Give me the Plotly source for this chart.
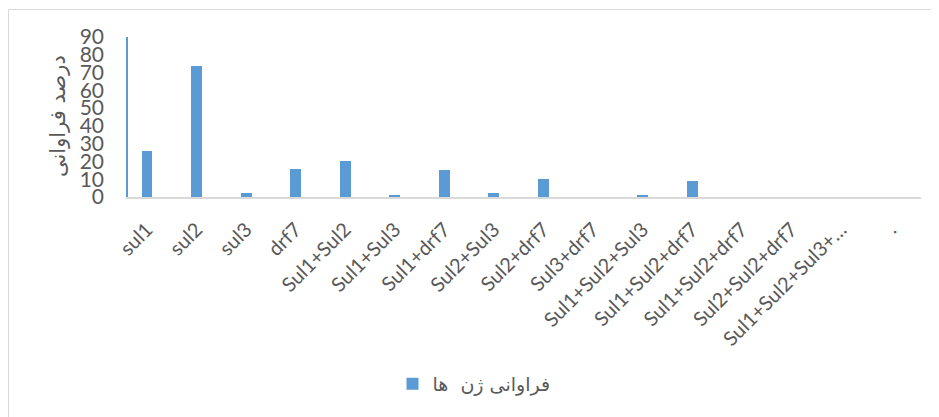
import plotly.graph_objects as go

categories = ["sul1", "sul2", "sul3", "drf7", "Sul1+Sul2", "Sul1+Sul3", "Sul1+drf7",
              "Sul2+Sul3", "Sul2+drf7", "Sul3+drf7", "Sul1+Sul2+Sul3", "Sul1+Sul2+drf7",
              "Sul1+Sul2+drf7", "Sul2+Sul2+drf7", "Sul1+Sul2+Sul3+…", "."]
values = [26, 73.5, 2, 16, 20, 1, 15, 2, 10, 0, 1, 9, 0, 0, 0, 0]
series_name = "فراوانی ژن  ها"
y_title = "درصد فراوانی"
y_ticks = [0, 10, 20, 30, 40, 50, 60, 70, 80, 90]

positions = list(range(len(categories)))

OFF = 8  # page body margin
W, H = 939 - OFF, 417 - OFF
plot_l, plot_r, plot_t, plot_b = 128 - OFF, 921 - OFF, 37 - OFF, 197 - OFF
ml, mr, mt, mb = plot_l, W - plot_r, plot_t, H - plot_b
pw, ph = plot_r - plot_l, plot_b - plot_t

def px_x(p):
    return (p - OFF - plot_l) / pw

def px_y(p):
    return (plot_b - (p - OFF)) / ph

grey = "#595959"
blue = "#5B9BD5"

fig = go.Figure()
fig.add_trace(go.Bar(
    x=positions, y=values, name=series_name, width=0.22,
    marker=dict(color=blue, line=dict(width=0)),
))

fig.update_layout(
    width=W, height=H,
    margin=dict(l=ml, r=mr, t=mt, b=mb),
    paper_bgcolor="white", plot_bgcolor="white",
    font=dict(family="Open Sans, DejaVu Sans, sans-serif", color=grey),
    showlegend=True,
    legend=dict(orientation="h", x=px_x(474), xanchor="center", y=px_y(384), yanchor="middle",
                font=dict(size=19, color=grey, family="DejaVu Sans, sans-serif"),
                bgcolor="rgba(0,0,0,0)"),
    bargap=0,
)
fig.update_xaxes(
    range=[-0.383, len(categories) - 0.383],
    tickmode="array", tickvals=positions, ticktext=categories,
    tickangle=-45, tickfont=dict(size=20, color=grey, family="Lato, Open Sans, sans-serif"),
    showline=True, linecolor="#D9D9D9", linewidth=2,
    showgrid=False, zeroline=False, ticks="", ticklabelstandoff=11,
)
fig.update_yaxes(
    range=[0, 90], tickmode="array", tickvals=y_ticks,
    tickfont=dict(size=21, color=grey, family="Lato, Open Sans, sans-serif"),
    showline=True, linecolor=blue, linewidth=1.5,
    showgrid=False, zeroline=False, ticks="", ticklabelstandoff=18,
)
fig.add_annotation(
    text=y_title, xref="paper", yref="paper", x=px_x(58), y=px_y(116),
    xanchor="center", yanchor="middle",
    showarrow=False, textangle=-90, font=dict(size=21, color=grey, family="DejaVu Sans, sans-serif"),
)
# chart area border (top and left only visible)
fig.add_shape(type="line", xref="paper", yref="paper", x0=px_x(8.5), x1=px_x(939), y0=px_y(9.5), y1=px_y(9.5),
              line=dict(color="#D9D9D9", width=1))
fig.add_shape(type="line", xref="paper", yref="paper", x0=px_x(8.5), x1=px_x(8.5), y0=px_y(9.5), y1=px_y(417),
              line=dict(color="#D9D9D9", width=1))

fig.write_html("out.html")
